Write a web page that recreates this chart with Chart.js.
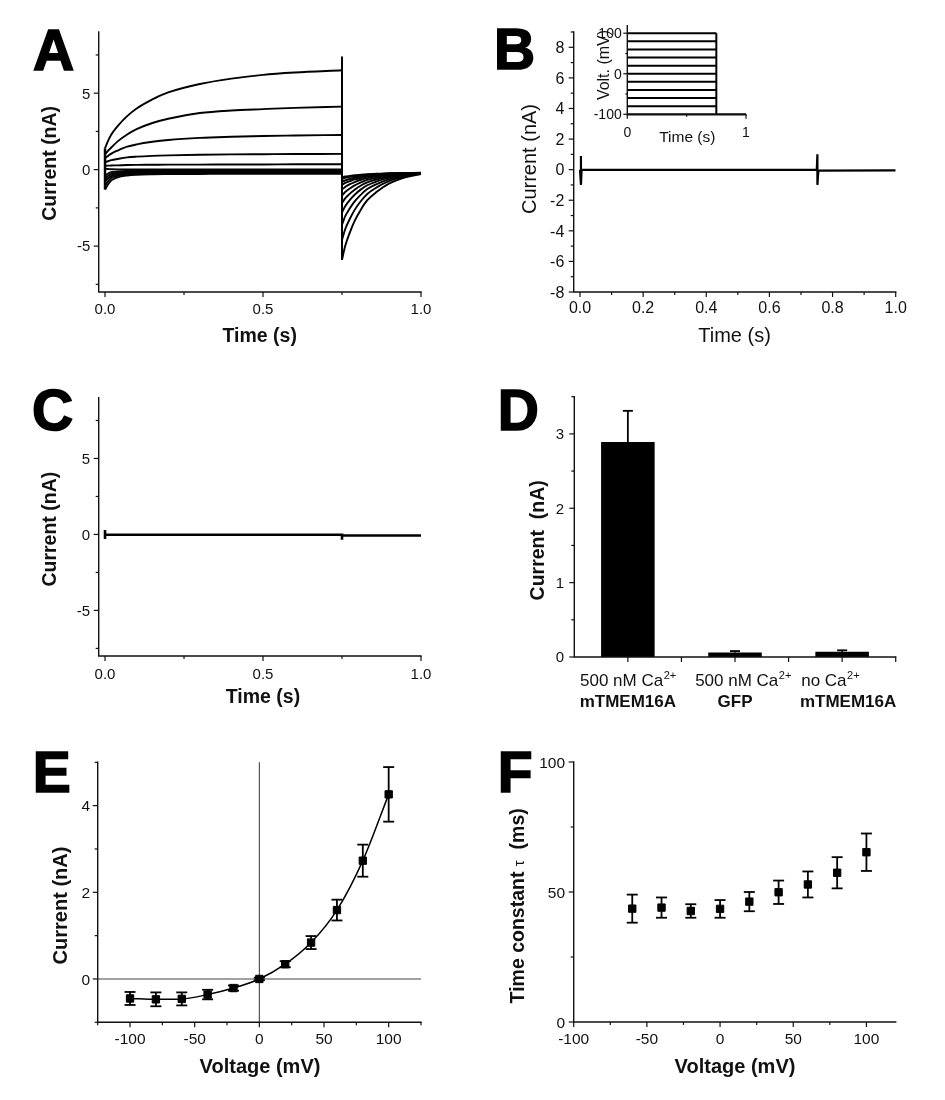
<!DOCTYPE html>
<html>
<head>
<meta charset="utf-8">
<title>mTMEM16A currents</title>
<script src="https://cdn.jsdelivr.net/npm/chart.js@4.4.1/dist/chart.umd.min.js"></script>
<style>
  html, body { margin: 0; padding: 0; background: #ffffff; }
  #wrap { position: relative; width: 945px; height: 1100px; background: #ffffff; overflow: hidden; }
  #wrap canvas { position: absolute; }
</style>
</head>
<body>
<div id="wrap"></div>
<script>
// ======================= DATA =======================
// ---- Panel A : current families (nA) vs time (s) ----
const stepVoltsA = [100, 80, 60, 40, 20, 0, -20, -40, -60, -80, -100];
const stepTimesA = [0, 0.01, 0.02, 0.04, 0.07, 0.1, 0.15, 0.2, 0.3, 0.4, 0.5, 0.6, 0.75];
const tailTimesA = [0.75, 0.76, 0.775, 0.79, 0.81, 0.83, 0.86, 0.9, 0.95, 1.0];
const stepA_p100 = [1.4, 1.9, 2.3, 2.85, 3.5, 4.0, 4.6, 5.05, 5.6, 5.95, 6.2, 6.35, 6.5];
const stepA_p80  = [1.0, 1.25, 1.45, 1.85, 2.3, 2.65, 3.05, 3.33, 3.7, 3.87, 3.96, 4.04, 4.12];
const stepA_p60  = [0.75, 0.9, 1.05, 1.25, 1.5, 1.65, 1.82, 1.94, 2.08, 2.15, 2.2, 2.23, 2.27];
const stepA_p40  = [0.5, 0.55, 0.62, 0.7, 0.8, 0.85, 0.9, 0.93, 0.97, 1.0, 1.01, 1.02, 1.03];
const stepA_p20  = [0.25, 0.26, 0.27, 0.28, 0.3, 0.31, 0.32, 0.33, 0.33, 0.34, 0.34, 0.35, 0.35];
const stepA_0    = [0.05, 0.04, 0.03, 0.02, 0.02, 0.02, 0.02, 0.02, 0.02, 0.02, 0.02, 0.02, 0.02];
const stepA_m20  = [-0.4, -0.25, -0.17, -0.12, -0.09, -0.08, -0.07, -0.07, -0.07, -0.07, -0.07, -0.07, -0.07];
const stepA_m40  = [-0.6, -0.4, -0.3, -0.2, -0.16, -0.14, -0.13, -0.12, -0.12, -0.12, -0.12, -0.12, -0.12];
const stepA_m60  = [-0.8, -0.55, -0.42, -0.3, -0.23, -0.2, -0.19, -0.18, -0.17, -0.17, -0.17, -0.17, -0.17];
const stepA_m80  = [-1.05, -0.75, -0.55, -0.4, -0.3, -0.27, -0.25, -0.24, -0.23, -0.22, -0.22, -0.22, -0.22];
const stepA_m100 = [-1.3, -0.95, -0.7, -0.5, -0.38, -0.33, -0.3, -0.29, -0.28, -0.27, -0.27, -0.27, -0.27];
const tailA_p100 = [-5.9, -5.0, -4.1, -3.35, -2.6, -2.0, -1.45, -0.9, -0.5, -0.28];
const tailA_p80  = [-4.6, -3.9, -3.21, -2.63, -2.05, -1.59, -1.16, -0.74, -0.43, -0.26];
const tailA_p60  = [-3.6, -3.06, -2.53, -2.08, -1.63, -1.27, -0.94, -0.62, -0.38, -0.25];
const tailA_p40  = [-2.8, -2.39, -1.98, -1.64, -1.29, -1.02, -0.77, -0.52, -0.34, -0.24];
const tailA_p20  = [-2.2, -1.88, -1.57, -1.31, -1.04, -0.83, -0.64, -0.45, -0.31, -0.23];
const tailA_0    = [-1.7, -1.46, -1.23, -1.03, -0.83, -0.67, -0.53, -0.38, -0.28, -0.22];
const tailA_m20  = [-1.3, -1.13, -0.95, -0.81, -0.66, -0.55, -0.44, -0.34, -0.26, -0.22];
const tailA_m40  = [-1.0, -0.87, -0.75, -0.64, -0.54, -0.45, -0.38, -0.3, -0.24, -0.21];
const tailA_m60  = [-0.8, -0.71, -0.61, -0.53, -0.45, -0.39, -0.33, -0.27, -0.23, -0.21];
const tailA_m80  = [-0.6, -0.54, -0.47, -0.42, -0.37, -0.33, -0.29, -0.25, -0.22, -0.21];
const tailA_m100 = [-0.5, -0.45, -0.41, -0.37, -0.33, -0.29, -0.27, -0.24, -0.22, -0.2];
const spikeTimeA = [0.75, 0.75];
const spikeCurrA = [7.4, -5.9];
const onsetTimeA = [0, 0];
const onsetCurrA = [1.4, -1.3];
const xTicksA = [0, 0.5, 1.0];
const xTickLabelsA = ['0.0', '0.5', '1.0'];
const xMinorA = [0.25, 0.75];
const yTicksA = [-5, 0, 5];
const yTickLabelsA = ['-5', '0', '5'];
const yMinorA = [-7.5, -2.5, 2.5, 7.5];

// ---- Panel B : GFP control trace + voltage protocol inset ----
const timeB    = [0, 0.003, 0.003, 0.005, 0.75, 0.752, 0.752, 0.755, 1.0];
const currentB = [0, 0.9, -1.0, -0.02, -0.01, 1.0, -1.0, -0.06, -0.05];
const xTicksB = [0, 0.2, 0.4, 0.6, 0.8, 1.0];
const xTickLabelsB = ['0.0', '0.2', '0.4', '0.6', '0.8', '1.0'];
const xMinorB = [0.1, 0.3, 0.5, 0.7, 0.9];
const yTicksB = [-8, -6, -4, -2, 0, 2, 4, 6, 8];
const yTickLabelsB = ['-8', '-6', '-4', '-2', '0', '2', '4', '6', '8'];
const yMinorB = [-7, -5, -3, -1, 1, 3, 5, 7, 9];
const insetVolts = [-100, -80, -60, -40, -20, 0, 20, 40, 60, 80, 100];
const insetStepStart = 0;
const insetStepEnd = 0.75;
const insetHoldVolt = -100;
const insetEndTime = 1.0;
const xTicksInset = [0, 1];
const xTickLabelsInset = ['0', '1'];
const yTicksInset = [-100, 0, 100];
const yTickLabelsInset = ['-100', '0', '100'];

// ---- Panel C : no-Ca2+ trace ----
const timeC    = [0, 0, 0, 0.75, 0.75, 0.75, 0.75, 1.0];
const currentC = [0.3, -0.3, -0.02, -0.02, 0.05, -0.35, -0.07, -0.07];

// ---- Panel D : mean current (nA) ----
const groupsLine1 = ['500 nM Ca', '500 nM Ca', 'no Ca'];
const groupsSup   = ['2+', '2+', '2+'];
const groupsLine2 = ['mTMEM16A', 'GFP', 'mTMEM16A'];
const meanD = [2.89, 0.06, 0.07];
const semD  = [0.42, 0.02, 0.02];
const yTicksD = [0, 1, 2, 3];
const yTickLabelsD = ['0', '1', '2', '3'];
const yMinorD = [0.5, 1.5, 2.5, 3.5];

// ---- Panel E : I-V relation ----
const voltE   = [-100, -80, -60, -40, -20, 0, 20, 40, 60, 80, 100];
const currE   = [-0.45, -0.47, -0.46, -0.36, -0.21, 0.0, 0.34, 0.84, 1.59, 2.73, 4.26];
const errE    = [0.15, 0.16, 0.15, 0.11, 0.06, 0.03, 0.07, 0.15, 0.24, 0.37, 0.63];
const xTicksE = [-100, -50, 0, 50, 100];
const xTickLabelsE = ['-100', '-50', '0', '50', '100'];
const xMinorE = [-125, -75, -25, 25, 75, 125];
const yTicksE = [0, 2, 4];
const yTickLabelsE = ['0', '2', '4'];
const yMinorE = [-1, 1, 3, 5];

// ---- Panel F : tail time constant (ms) ----
const voltF = [-60, -40, -20, 0, 20, 40, 60, 80, 100];
const tauF  = [43.6, 44.0, 42.7, 43.5, 46.3, 49.9, 52.9, 57.4, 65.3];
const errF  = [5.4, 3.9, 2.6, 3.4, 3.7, 4.5, 5.0, 6.0, 7.2];
const xTicksF = [-100, -50, 0, 50, 100];
const xTickLabelsF = ['-100', '-50', '0', '50', '100'];
const xMinorF = [-75, -25, 25, 75];
const yTicksF = [0, 50, 100];
const yTickLabelsF = ['0', '50', '100'];
const yMinorF = [25, 75];

// ======================= RENDERING =======================
const FONT = '"Liberation Sans", Arial, Helvetica, sans-serif';
const INK = '#111';
const wrap = document.getElementById('wrap');

function makeChart(o) {
  const [cx, cy, cw, ch] = o.rect;
  const [L, T, R, B] = o.area;
  const cv = document.createElement('canvas');
  cv.width = cw; cv.height = ch;
  Object.assign(cv.style, {left: cx + 'px', top: cy + 'px', width: cw + 'px', height: ch + 'px'});
  wrap.appendChild(cv);
  const off = [cx, cy];
  return new Chart(cv.getContext('2d'), {
    type: o.type,
    data: o.data,
    options: {
      responsive: false, maintainAspectRatio: false, animation: false, devicePixelRatio: 1,
      events: [],
      layout: {padding: {left: L - cx, top: T - cy, right: cx + cw - R, bottom: cy + ch - B}},
      plugins: {legend: {display: false}, tooltip: {enabled: false}, title: {display: false}},
      scales: {x: Object.assign({display: false}, o.x), y: Object.assign({display: false}, o.y)},
      elements: {point: {radius: 0, hoverRadius: 0}, line: {fill: false}}
    },
    plugins: [{
      id: 'deco',
      beforeDatasetsDraw(c) { if (o.before) { c.ctx.save(); o.before(c, off); c.ctx.restore(); } },
      afterDraw(c) { c.ctx.save(); o.after(c, off); c.ctx.restore(); }
    }]
  });
}

function drawAxes(c, s) {
  const ctx = c.ctx, a = c.chartArea, X = c.scales.x, Y = c.scales.y;
  const maj = s.major || 5, min = s.minor || 3;
  ctx.save();
  ctx.strokeStyle = INK; ctx.lineWidth = s.axisW || 1.4; ctx.lineCap = 'square';
  ctx.beginPath(); ctx.moveTo(a.left, a.top); ctx.lineTo(a.left, a.bottom); ctx.lineTo(a.right, a.bottom); ctx.stroke();
  ctx.lineWidth = 1.2; ctx.lineCap = 'butt';
  const seg = (x1, y1, x2, y2) => { ctx.beginPath(); ctx.moveTo(x1, y1); ctx.lineTo(x2, y2); ctx.stroke(); };
  (s.xMajor || []).forEach(v => { const p = X.getPixelForValue(v); seg(p, a.bottom, p, a.bottom + maj); });
  (s.xMinor || []).forEach(v => { const p = X.getPixelForValue(v); seg(p, a.bottom, p, a.bottom + min); });
  (s.yMajor || []).forEach(v => { const p = Y.getPixelForValue(v); seg(a.left - maj, p, a.left, p); });
  (s.yMinor || []).forEach(v => { const p = Y.getPixelForValue(v); seg(a.left - min, p, a.left, p); });
  ctx.fillStyle = INK; ctx.font = s.tickSize + 'px ' + FONT; ctx.textBaseline = 'alphabetic';
  const cap = 0.358 * s.tickSize;
  ctx.textAlign = 'center';
  if (s.xLabels) (s.xMajor || []).forEach((v, i) => ctx.fillText(s.xLabels[i], X.getPixelForValue(v), a.bottom + s.xDy + cap));
  ctx.textAlign = 'right';
  if (s.yLabels) (s.yMajor || []).forEach((v, i) => ctx.fillText(s.yLabels[i], a.left - s.yDx, Y.getPixelForValue(v) + cap));
  ctx.restore();
}

function title(c, off, str, ax, ay, size, bold, rot) {
  const ctx = c.ctx;
  ctx.save();
  ctx.translate(ax - off[0], ay - off[1]);
  if (rot) ctx.rotate(-Math.PI / 2);
  ctx.font = (bold ? 'bold ' : '') + size + 'px ' + FONT;
  ctx.fillStyle = INK; ctx.textAlign = 'center'; ctx.textBaseline = 'alphabetic';
  ctx.fillText(str, 0, 0.26 * size);
  ctx.restore();
}

function panelLetter(c, off, ch, ax, base) {
  const ctx = c.ctx;
  ctx.save();
  ctx.font = 'bold 57px ' + FONT;
  ctx.textAlign = 'left'; ctx.textBaseline = 'alphabetic';
  ctx.fillStyle = '#000'; ctx.strokeStyle = '#000'; ctx.lineWidth = 1.6; ctx.lineJoin = 'miter';
  ctx.fillText(ch, ax - off[0], base - off[1]);
  ctx.strokeText(ch, ax - off[0], base - off[1]);
  ctx.restore();
}

function errorBars(c, xPix, vals, errs, half, upOnly) {
  const ctx = c.ctx, Y = c.scales.y;
  ctx.save();
  ctx.strokeStyle = '#000'; ctx.lineWidth = 1.8;
  vals.forEach((v, i) => {
    const x = xPix(i);
    const yt = Y.getPixelForValue(v + errs[i]);
    const yb = Y.getPixelForValue(upOnly ? v : v - errs[i]);
    ctx.beginPath(); ctx.moveTo(x, yt); ctx.lineTo(x, yb); ctx.stroke();
    ctx.beginPath(); ctx.moveTo(x - half, yt); ctx.lineTo(x + half, yt); ctx.stroke();
    if (!upOnly) { ctx.beginPath(); ctx.moveTo(x - half, yb); ctx.lineTo(x + half, yb); ctx.stroke(); }
  });
  ctx.restore();
}

const pts = (xs, ys) => ys.map((y, i) => ({x: xs[i], y}));
const trace = (data, w, smooth) => ({
  data, borderColor: '#000', borderWidth: w, pointRadius: 0, fill: false,
  tension: 0, cubicInterpolationMode: smooth ? 'monotone' : 'default'
});

// ---------------- Panel A ----------------
const stepsA = [stepA_p100, stepA_p80, stepA_p60, stepA_p40, stepA_p20, stepA_0, stepA_m20, stepA_m40, stepA_m60, stepA_m80, stepA_m100];
const tailsA = [tailA_p100, tailA_p80, tailA_p60, tailA_p40, tailA_p20, tailA_0, tailA_m20, tailA_m40, tailA_m60, tailA_m80, tailA_m100];
makeChart({
  rect: [0, 0, 472, 360], area: [98.7, 32, 421, 292], type: 'line',
  data: {datasets: [
    ...stepsA.map(a => trace(pts(stepTimesA, a), 1.9, true)),
    ...tailsA.map(a => trace(pts(tailTimesA, a), 1.9, true)),
    trace(pts(spikeTimeA, spikeCurrA), 2, false),
    trace(pts(onsetTimeA, onsetCurrA), 2.5, false)
  ]},
  x: {type: 'linear', min: -0.02, max: 1.0},
  y: {type: 'linear', min: -8, max: 9},
  after(c, off) {
    drawAxes(c, {xMajor: xTicksA, xMinor: xMinorA, xLabels: xTickLabelsA, yMajor: yTicksA, yMinor: yMinorA, yLabels: yTickLabelsA, tickSize: 15, xDy: 16.3, yDx: 8.4});
    title(c, off, 'Current (nA)', 50.5, 163.3, 19.5, true, true);
    title(c, off, 'Time (s)', 259.7, 336.7, 19.5, true, false);
    panelLetter(c, off, 'A', 33, 70);
  }
});

// ---------------- Panel B ----------------
makeChart({
  rect: [472, 0, 473, 360], area: [573.7, 32, 895.7, 292], type: 'line',
  data: {datasets: [trace(pts(timeB, currentB), 2.2, false)]},
  x: {type: 'linear', min: -0.02, max: 1.0},
  y: {type: 'linear', min: -8, max: 9},
  after(c, off) {
    drawAxes(c, {xMajor: xTicksB, xMinor: xMinorB, xLabels: xTickLabelsB, yMajor: yTicksB, yMinor: yMinorB, yLabels: yTickLabelsB, tickSize: 16, xDy: 15.5, yDx: 9.4});
    title(c, off, 'Current (nA)', 530.5, 159, 20, false, true);
    title(c, off, 'Time (s)', 734.5, 336.7, 20, false, false);
    panelLetter(c, off, 'B', 494, 69);
  }
});

// ---------------- Panel B inset (voltage protocol) ----------------
makeChart({
  rect: [580, 8, 185, 145], area: [627.3, 25.7, 746, 114.7], type: 'line',
  data: {datasets: [
    ...insetVolts.map(v => trace(pts([insetStepStart, insetStepEnd], [v, v]), 2, false)),
    trace(pts([insetStepEnd, insetStepEnd], [insetVolts[0], insetVolts[insetVolts.length - 1]]), 2, false),
    trace(pts([insetStepEnd, insetEndTime], [insetHoldVolt, insetHoldVolt]), 2, false)
  ]},
  x: {type: 'linear', min: 0, max: 1},
  y: {type: 'linear', min: -101, max: 118.5},
  after(c, off) {
    drawAxes(c, {xMajor: xTicksInset, xMinor: [0.5], xLabels: xTickLabelsInset, yMajor: yTicksInset, yMinor: [-50, 50], yLabels: yTickLabelsInset, tickSize: 14, xDy: 17, yDx: 5.6, major: 4, minor: 2, axisW: 1.4});
    title(c, off, 'Volt. (mV)', 605.3, 65, 16, false, true);
    title(c, off, 'Time (s)', 687.3, 137.7, 15.5, false, false);
  }
});

// ---------------- Panel C ----------------
makeChart({
  rect: [0, 360, 472, 365], area: [98.7, 397.7, 421, 656], type: 'line',
  data: {datasets: [trace(pts(timeC, currentC), 2.6, false)]},
  x: {type: 'linear', min: -0.02, max: 1.0},
  y: {type: 'linear', min: -8, max: 9},
  after(c, off) {
    drawAxes(c, {xMajor: xTicksA, xMinor: xMinorA, xLabels: xTickLabelsA, yMajor: yTicksA, yMinor: yMinorA, yLabels: yTickLabelsA, tickSize: 15, xDy: 17.3, yDx: 8.7});
    title(c, off, 'Current (nA)', 50.5, 529.2, 19.5, true, true);
    title(c, off, 'Time (s)', 263, 698, 19.5, true, false);
    panelLetter(c, off, 'C', 32, 430);
  }
});

// ---------------- Panel D ----------------
const line1Off = [0, 8, -12];
const line2Off = [0, 0, 6];
makeChart({
  rect: [472, 360, 473, 365], area: [574.3, 396.7, 895.7, 657], type: 'bar',
  data: {
    labels: groupsLine2,
    datasets: [{data: meanD, backgroundColor: '#000', borderWidth: 0, categoryPercentage: 1.0, barPercentage: 0.5}]
  },
  x: {type: 'category', offset: true},
  y: {type: 'linear', min: 0, max: 3.5},
  after(c, off) {
    const X = c.scales.x, a = c.chartArea, ctx = c.ctx;
    errorBars(c, i => X.getPixelForValue(i), meanD, semD, 5, true);
    drawAxes(c, {yMajor: yTicksD, yMinor: yMinorD, yLabels: yTickLabelsD, tickSize: 15, yDx: 10.3});
    ctx.save(); ctx.strokeStyle = INK; ctx.lineWidth = 1.2;
    const step = X.getPixelForValue(1) - X.getPixelForValue(0);
    meanD.forEach((v, i) => {
      const p = X.getPixelForValue(i);
      [p, p + step / 2].forEach(q => { ctx.beginPath(); ctx.moveTo(q, a.bottom); ctx.lineTo(q, a.bottom + 5); ctx.stroke(); });
    });
    ctx.fillStyle = INK; ctx.textBaseline = 'alphabetic'; ctx.textAlign = 'left';
    groupsLine1.forEach((s, i) => {
      const p = X.getPixelForValue(i);
      ctx.font = '17px ' + FONT; const w1 = ctx.measureText(s).width;
      ctx.font = '11px ' + FONT; const w2 = ctx.measureText(groupsSup[i]).width;
      const x0 = p + line1Off[i] - (w1 + w2) / 2;
      ctx.font = '17px ' + FONT; ctx.fillText(s, x0, 686 - off[1]);
      ctx.font = '11px ' + FONT; ctx.fillText(groupsSup[i], x0 + w1 + 0.5, 679 - off[1]);
      ctx.font = 'bold 17px ' + FONT;
      const w3 = ctx.measureText(groupsLine2[i]).width;
      ctx.fillText(groupsLine2[i], p + line2Off[i] - w3 / 2, 706.5 - off[1]);
    });
    ctx.restore();
    title(c, off, 'Current  (nA)', 539.2, 540.3, 19.5, true, true);
    panelLetter(c, off, 'D', 497.7, 430);
  }
});

// ---------------- Panel E ----------------
makeChart({
  rect: [0, 725, 472, 375], area: [97.7, 762.3, 421, 1022.3], type: 'line',
  data: {datasets: [{
    data: pts(voltE, currE), borderColor: '#000', borderWidth: 1.5, fill: false,
    cubicInterpolationMode: 'monotone', pointStyle: 'rect', pointRadius: 5.2,
    pointBackgroundColor: '#000', pointBorderColor: '#000', pointBorderWidth: 1
  }]},
  x: {type: 'linear', min: -125, max: 125},
  y: {type: 'linear', min: -1, max: 5},
  before(c) {
    const ctx = c.ctx, a = c.chartArea, X = c.scales.x, Y = c.scales.y;
    ctx.strokeStyle = '#444'; ctx.lineWidth = 1.1;
    const x0 = X.getPixelForValue(0), y0 = Y.getPixelForValue(0);
    ctx.beginPath(); ctx.moveTo(x0, a.top); ctx.lineTo(x0, a.bottom); ctx.stroke();
    ctx.beginPath(); ctx.moveTo(a.left, y0); ctx.lineTo(a.right, y0); ctx.stroke();
  },
  after(c, off) {
    const X = c.scales.x;
    errorBars(c, i => X.getPixelForValue(voltE[i]), currE, errE, 5.5, false);
    drawAxes(c, {xMajor: xTicksE, xMinor: xMinorE, xLabels: xTickLabelsE, yMajor: yTicksE, yMinor: yMinorE, yLabels: yTickLabelsE, tickSize: 15.5, xDy: 16, yDx: 7.7});
    title(c, off, 'Current (nA)', 61.7, 905.5, 20, true, true);
    title(c, off, 'Voltage (mV)', 260, 1067.5, 20, true, false);
    panelLetter(c, off, 'E', 32.7, 791.7);
  }
});

// ---------------- Panel F ----------------
makeChart({
  rect: [472, 725, 473, 375], area: [573.7, 762, 895.7, 1022], type: 'line',
  data: {datasets: [{
    data: pts(voltF, tauF), showLine: false, borderColor: '#000', borderWidth: 0,
    pointStyle: 'rect', pointRadius: 5.2, pointBackgroundColor: '#000', pointBorderColor: '#000', pointBorderWidth: 1
  }]},
  x: {type: 'linear', min: -100, max: 120},
  y: {type: 'linear', min: 0, max: 100},
  after(c, off) {
    const X = c.scales.x, ctx = c.ctx;
    errorBars(c, i => X.getPixelForValue(voltF[i]), tauF, errF, 5.5, false);
    drawAxes(c, {xMajor: xTicksF, xMinor: xMinorF, xLabels: xTickLabelsF, yMajor: yTicksF, yMinor: yMinorF, yLabels: yTickLabelsF, tickSize: 15.5, xDy: 16.3, yDx: 8.7});
    title(c, off, 'Voltage (mV)', 735, 1067.5, 20, true, false);
    const parts = [['Time constant ', 'bold 19.5px '], ['\u03C4', '15px '], ['  (ms)', 'bold 19.5px ']];
    ctx.save();
    ctx.translate(519.2 - off[0], 905.8 - off[1]);
    ctx.rotate(-Math.PI / 2);
    ctx.fillStyle = INK; ctx.textBaseline = 'alphabetic'; ctx.textAlign = 'left';
    let total = 0;
    const ws = parts.map(p => { ctx.font = p[1] + FONT; const w = ctx.measureText(p[0]).width; total += w; return w; });
    let x = -total / 2;
    parts.forEach((p, i) => { ctx.font = p[1] + FONT; ctx.fillText(p[0], x, 0.26 * 19.5); x += ws[i]; });
    ctx.restore();
    panelLetter(c, off, 'F', 497.7, 791.7);
  }
});
</script>
</body>
</html>
